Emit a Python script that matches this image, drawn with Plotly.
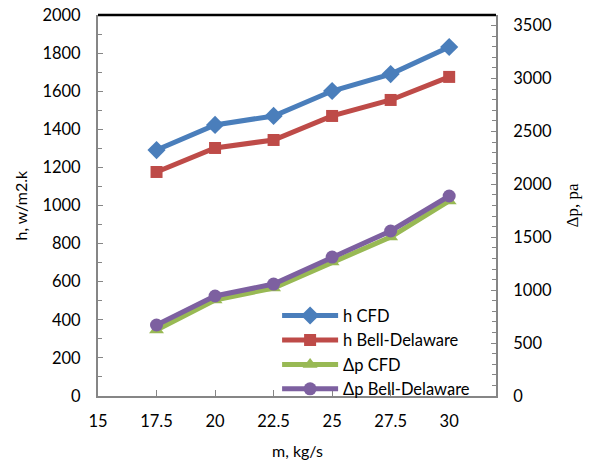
import plotly.graph_objects as go

# mass flow rate, kg/s
m_flow = [17.5, 20, 22.5, 25, 27.5, 30]

# heat transfer coefficient, W/m2.K
h_cfd = [1291, 1423, 1470, 1601, 1690, 1832]
h_bell = [1176, 1302, 1344, 1470, 1554, 1675]

# pressure drop, Pa
dp_cfd = [624, 907, 1020, 1266, 1502, 1843]
dp_bell = [671, 945, 1058, 1313, 1559, 1890]

series = [
    ("h CFD", h_cfd, "y", "#4A7EBB", "diamond", 14),
    ("h Bell-Delaware", h_bell, "y", "#BE4B48", "square", 12),
    ("Δp CFD", dp_cfd, "y2", "#98B954", "triangle-up", 13),
    ("Δp Bell-Delaware", dp_bell, "y2", "#7D60A0", "circle", 13),
]

FONT = "Lato"
AXIS_GREY = "#868686"
TICK_SIZE = 16.5

fig = go.Figure()
for name, vals, ax, color, sym, size in series:
    fig.add_trace(go.Scatter(
        x=m_flow, y=vals, yaxis=ax, name=name, mode="lines+markers",
        line=dict(color=color, width=5),
        marker=dict(symbol=sym, size=size, color=color),
    ))

fig.update_layout(
    width=589, height=463,
    margin=dict(l=98, r=93, t=15, b=67, autoexpand=False),
    paper_bgcolor="white", plot_bgcolor="white",
    font=dict(family=FONT, size=15, color="#000000"),
    showlegend=True,
    legend=dict(
        x=0.45, y=-0.027, xanchor="left", yanchor="bottom",
        bgcolor="rgba(0,0,0,0)", itemwidth=56,
        font=dict(family=FONT, size=16.5),
        tracegroupgap=0,
    ),
    xaxis=dict(
        range=[15, 32], tick0=15, dtick=2.5, showgrid=False, zeroline=False,
        showline=True, linecolor=AXIS_GREY, linewidth=2, automargin=False,
        ticks="inside", ticklen=6, tickcolor=AXIS_GREY, tickwidth=1,
        ticklabelstandoff=9, tickfont=dict(size=TICK_SIZE),
    ),
    yaxis=dict(
        range=[0, 2000], dtick=200, showgrid=False, zeroline=False,
        showline=True, linecolor=AXIS_GREY, linewidth=2, automargin=False,
        ticks="inside", ticklen=5, tickcolor=AXIS_GREY, tickwidth=1,
        minor=dict(dtick=100, ticks="inside", ticklen=4, tickcolor=AXIS_GREY),
        ticklabelstandoff=12, tickfont=dict(size=TICK_SIZE),
    ),
    yaxis2=dict(
        range=[0, 3600], dtick=500, overlaying="y", side="right",
        showgrid=False, zeroline=False, automargin=False,
        showline=True, linecolor=AXIS_GREY, linewidth=2,
        ticks="inside", ticklen=5, tickcolor=AXIS_GREY, tickwidth=1,
        minor=dict(dtick=100, ticks="inside", ticklen=4, tickcolor=AXIS_GREY),
        ticklabelstandoff=12, tickfont=dict(size=TICK_SIZE),
    ),
)

# black border along the top of the plot area
fig.add_shape(type="line", xref="paper", yref="paper", x0=0, x1=1, y0=1, y1=1,
              line=dict(color="black", width=2.5))

# axis titles
fig.add_annotation(text="m, kg/s", xref="paper", yref="paper", x=0.5, y=0,
                   xanchor="center", yanchor="middle",
                   yshift=-54, showarrow=False, font=dict(family=FONT, size=16))
fig.add_annotation(text="h, w/m2.k", xref="paper", yref="paper", x=0, y=0.5,
                   xanchor="center", yanchor="middle",
                   xshift=-78, textangle=-90, showarrow=False,
                   font=dict(family=FONT, size=16))
fig.add_annotation(text="Δp, pa", xref="paper", yref="paper", x=1, y=0.5,
                   xanchor="center", yanchor="middle",
                   xshift=76, textangle=-90, showarrow=False,
                   font=dict(family="Liberation Serif", size=17))

fig.write_html("out.html")
